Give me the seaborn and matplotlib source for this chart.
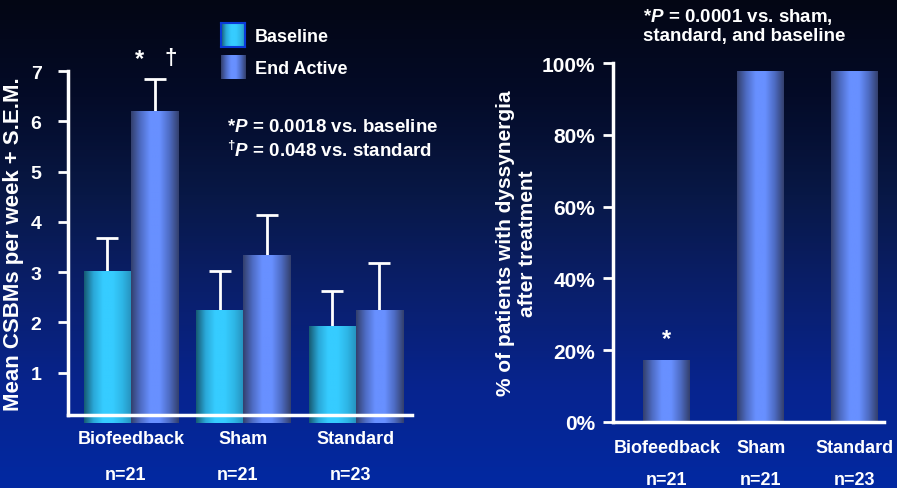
import numpy as np
import pandas as pd
import matplotlib
matplotlib.use('Agg')
import matplotlib.pyplot as plt
import matplotlib.transforms as mtransforms
from matplotlib.colors import LinearSegmentedColormap
import seaborn as sns

# ---- data ----
groups = ['Biofeedback', 'Sham', 'Standard']
n_labels = ['n=21', 'n=21', 'n=23']
phases = ['Baseline', 'End Active']
baseline = [3.03, 2.24, 1.92]
end_active = [6.20, 3.35, 2.24]
baseline_sem = [0.64, 0.79, 0.70]
end_active_sem = [0.64, 0.79, 0.95]
dyssynergia_pct = [17.3, 97.8, 97.8]

sns.set_style('ticks')
plt.rcParams['font.family'] = ['Liberation Sans', 'DejaVu Sans']
plt.rcParams['font.weight'] = 'bold'
plt.rcParams['mathtext.fontset'] = 'custom'
plt.rcParams['mathtext.rm'] = 'Liberation Sans:bold'
plt.rcParams['mathtext.it'] = 'Liberation Sans:italic:bold'
plt.rcParams['mathtext.bf'] = 'Liberation Sans:bold'

W, H = 897, 489
fig = plt.figure(figsize=(W / 100, H / 100), dpi=100)

# background gradient (dark navy at top to royal blue at bottom)
bg_cmap = LinearSegmentedColormap.from_list(
    'bg', ['#030614', '#040b28', '#081846', '#0a1f6c', '#07248f', '#0229a2'])
bg = fig.add_axes([0, 0, 1, 1], zorder=-10)
bg.imshow(np.linspace(0, 1, 256).reshape(-1, 1), aspect='auto', cmap=bg_cmap,
          extent=[0, 1, 0, 1])
bg.set_axis_off()

cyan_cmap = LinearSegmentedColormap.from_list(
    'cyan', ['#165a72', '#2aa8d8', '#36ccff', '#36ccff', '#2eb6e6', '#2590bc'])
blue_cmap = LinearSegmentedColormap.from_list(
    'blue', ['#333f6c', '#4e6cc4', '#6890ff', '#6890ff', '#4e6cc4', '#333f6c'])


def fill_gradient(ax, patch, cmap):
    x, y = patch.get_x(), patch.get_y()
    w, h = patch.get_width(), patch.get_height()
    im = ax.imshow(np.linspace(0, 1, 256).reshape(1, -1), extent=[x, x + w, y, y + h],
                   aspect='auto', cmap=cmap, zorder=2, interpolation='bilinear')
    im.set_clip_path(patch)
    patch.set_facecolor('none')
    patch.set_edgecolor('none')


def px(x, y):
    return x / W, 1 - y / H


def style_axes(ax, labelsize, pad):
    ax.set_facecolor('none')
    sns.despine(ax=ax)
    for s in ['left', 'bottom']:
        ax.spines[s].set_color('white')
        ax.spines[s].set_linewidth(2.5)
    ax.tick_params(axis='y', colors='white', labelsize=labelsize, width=2, length=7,
                   pad=pad)
    ax.set_xlabel('')
    for lab in ax.get_yticklabels() + ax.get_xticklabels():
        lab.set_fontweight('bold')


# ---- left panel: CSBMs ----
ax1 = fig.add_axes([68 / W, (H - 416) / H, 344 / W, 344 / H])
df = pd.DataFrame({'group': groups * 2,
                   'phase': [phases[0]] * 3 + [phases[1]] * 3,
                   'value': baseline + end_active})
sns.barplot(data=df, x='group', y='value', hue='phase', hue_order=phases,
            palette=['#36ccff', '#6890ff'], width=0.84, errorbar=None,
            legend=False, ax=ax1)
sems = [baseline_sem, end_active_sem]
for cont, cmap, sem in zip(ax1.containers, [cyan_cmap, blue_cmap], sems):
    xs = np.array([p.get_x() + p.get_width() / 2 for p in cont.patches])
    ys = np.array([p.get_height() for p in cont.patches])
    tops = ys + np.array(sem)
    for p in cont.patches:
        fill_gradient(ax1, p, cmap)
    # upper-only error bars with a cap at the top
    ax1.vlines(xs, ys, tops, color='white', lw=2, zorder=1)
    ax1.plot(xs, tops, ls='none', marker='_', markersize=16, mew=2, color='white',
             zorder=1)
ax1.set_xlim(-0.56, 2.5)
ax1.set_ylim(0.16, 7)
ax1.set_yticks(range(1, 8))
ax1.set_ylabel('Mean CSBMs per week + S.E.M.', color='white', fontsize=16,
               fontweight='bold', labelpad=5)
style_axes(ax1, 14, 12)
ax1.tick_params(axis='x', colors='white', labelsize=13, length=0, pad=11)
trans1 = mtransforms.blended_transform_factory(ax1.transData, ax1.transAxes)
for i, n in enumerate(n_labels):
    ax1.text(i - 0.05, -0.172, n, transform=trans1, ha='center', va='center',
             color='white', fontsize=13, fontweight='bold')
ax1.text(0.08, 7.25, '*', ha='center', va='center', color='white', fontsize=17,
         fontweight='bold', clip_on=False)
ax1.text(0.35, 7.27, '†', ha='center', va='center', color='white', fontsize=16,
         fontweight='bold', clip_on=False)

# legend with gradient swatches
for (y0, label, cmap, edge) in [(24, 'Baseline', cyan_cmap, '#0a3ad8'),
                                (56, 'End Active', blue_cmap, None)]:
    lax = fig.add_axes([221 / W, (H - y0 - 24) / H, 24 / W, 24 / H])
    lax.imshow(np.linspace(0, 1, 64).reshape(1, -1), aspect='auto', cmap=cmap,
               extent=[0, 1, 0, 1])
    lax.set_xticks([])
    lax.set_yticks([])
    for s in lax.spines.values():
        if edge:
            s.set_color(edge)
            s.set_linewidth(1.5)
        else:
            s.set_visible(False)
    fig.text(*px(255, y0 + 13), label, color='white', fontsize=13,
             fontweight='bold', va='center', ha='left')

fig.text(*px(227, 128), r'*$\mathit{P}$ = 0.0018 vs. baseline', color='white',
         fontsize=13.5, va='center', ha='left')
fig.text(*px(227, 151), r'$^{†}\mathit{P}$ = 0.048 vs. standard', color='white',
         fontsize=13.5, va='center', ha='left')

# ---- right panel: dyssynergia ----
ax2 = fig.add_axes([613 / W, (H - 423) / H, 271 / W, 359 / H])
sns.barplot(x=groups, y=dyssynergia_pct, color='#6890ff', width=0.5, errorbar=None,
            ax=ax2)
for p in list(ax2.patches):
    fill_gradient(ax2, p, blue_cmap)
ax2.set_xlim(-0.574, 2.31)
ax2.set_ylim(0, 100)
ax2.set_yticks(range(0, 101, 20))
ax2.yaxis.set_major_formatter(plt.FuncFormatter(lambda v, _: f'{v:.0f}%'))
ax2.set_ylabel('% of patients with dyssynergia\nafter treatment', color='white',
               fontsize=15, fontweight='bold', labelpad=3, linespacing=1.25)
style_axes(ax2, 15, 6)
ax2.tick_params(axis='x', colors='white', labelsize=13, length=0, pad=12)
trans2 = mtransforms.blended_transform_factory(ax2.transData, ax2.transAxes)
for i, n in enumerate(n_labels):
    ax2.text(i, -0.16, n, transform=trans2, ha='center', va='center',
             color='white', fontsize=13, fontweight='bold', clip_on=False)
ax2.text(0, dyssynergia_pct[0] + 6, '*', ha='center', va='center', color='white',
         fontsize=17, fontweight='bold')
fig.text(*px(643, 17), r'*$\mathit{P}$ = 0.0001 vs. sham,', color='white',
         fontsize=13.5, va='center', ha='left')
fig.text(*px(643, 37), 'standard, and baseline', color='white',
         fontsize=13.5, va='center', ha='left')

fig.savefig('out.png', dpi=100)
